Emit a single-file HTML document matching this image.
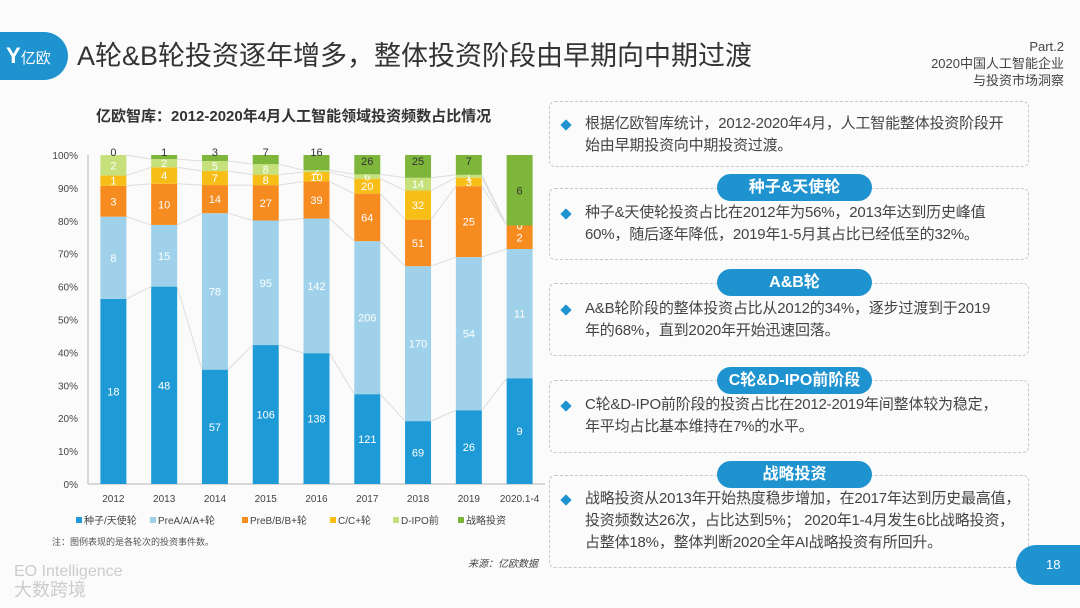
<!DOCTYPE html>
<html><head><meta charset="utf-8">
<style>
body{margin:0;width:1080px;height:608px;background:#fbfbfb;position:relative;overflow:hidden;font-family:"Liberation Sans","Noto Sans CJK SC",sans-serif;color:#333}
.abs{position:absolute}
.box{position:absolute;left:549px;width:480px;border:1.5px dashed #c8c8c8;border-radius:6px;box-sizing:border-box}
.pill{position:absolute;left:717px;width:155px;height:27px;border-radius:14px;background:#1f93cf;color:#fff;font-weight:bold;font-size:16px;text-align:center;line-height:27px}
.txt{position:absolute;left:585px;width:460px;font-size:15px;line-height:22px;color:#444;white-space:nowrap;letter-spacing:-0.2px}
.dia{position:absolute;left:562px;width:8px;height:8px;background:#1f93cf;transform:rotate(45deg)}
</style></head><body>
<div class="abs" style="left:0;top:32px;width:68px;height:48px;background:#1f93cf;border-radius:0 24px 24px 0;color:#fff;font-size:15px;line-height:48px;padding-left:6px;box-sizing:border-box"><b style="font-size:22px">Y</b>亿欧</div>
<div class="abs" style="left:77px;top:34px;font-size:27px;color:#333">A轮&amp;B轮投资逐年增多，整体投资阶段由早期向中期过渡</div>
<div class="abs" style="right:16px;top:38px;font-size:13px;line-height:17px;text-align:right;color:#444">Part.2<br>2020中国人工智能企业<br>与投资市场洞察</div>
<div class="abs" style="left:96px;top:105px;font-size:15px;font-weight:bold;color:#333">亿欧智库：2012-2020年4月人工智能领域投资频数占比情况</div>

<svg class="abs" style="left:0;top:0" width="1080" height="608" id="chart"></svg>

<div class="abs" style="left:52px;top:535px;font-size:9px;color:#555">注：图例表现的是各轮次的投资事件数。</div>
<div class="abs" style="left:468px;top:555px;font-size:10px;font-style:italic;color:#444">来源：亿欧数据</div>
<div class="abs" style="left:14px;top:563px;font-size:16px;color:#ccc;line-height:18px">EO Intelligence<br><span style="font-size:18px">大数跨境</span></div>

<div class="box" style="top:101px;height:66px"></div>
<div class="dia" style="top:121px"></div>
<div class="txt" style="top:113px">根据亿欧智库统计，2012-2020年4月，人工智能整体投资阶段开<br>始由早期投资向中期投资过渡。</div>

<div class="box" style="top:188px;height:72px"></div>
<div class="pill" style="top:174px">种子&amp;天使轮</div>
<div class="dia" style="top:210px"></div>
<div class="txt" style="top:202px">种子&amp;天使轮投资占比在2012年为56%，2013年达到历史峰值<br>60%，随后逐年降低，2019年1-5月其占比已经低至的32%。</div>

<div class="box" style="top:283px;height:73px"></div>
<div class="pill" style="top:269px">A&amp;B轮</div>
<div class="dia" style="top:306px"></div>
<div class="txt" style="top:298px">A&amp;B轮阶段的整体投资占比从2012的34%，逐步过渡到于2019<br>年的68%，直到2020年开始迅速回落。</div>

<div class="box" style="top:380px;height:73px"></div>
<div class="pill" style="top:367px">C轮&amp;D-IPO前阶段</div>
<div class="dia" style="top:402px"></div>
<div class="txt" style="top:394px">C轮&amp;D-IPO前阶段的投资占比在2012-2019年间整体较为稳定，<br>年平均占比基本维持在7%的水平。</div>

<div class="box" style="top:475px;height:93px"></div>
<div class="pill" style="top:461px">战略投资</div>
<div class="dia" style="top:496px"></div>
<div class="txt" style="top:488px">战略投资从2013年开始热度稳步增加，在2017年达到历史最高值，<br>投资频数达26次，占比达到5%； 2020年1-4月发生6比战略投资，<br>占整体18%，整体判断2020全年AI战略投资有所回升。</div>

<div class="abs" style="left:1016px;top:545px;width:70px;height:40px;background:#1f93cf;border-radius:20px 0 0 20px;color:#fff;font-size:13px;line-height:40px;padding-left:30px;box-sizing:border-box">18</div>

<script>
const categories=["2012","2013","2014","2015","2016","2017","2018","2019","2020.1-4"];
const seriesNames=["种子/天使轮","PreA/A/A+轮","PreB/B/B+轮","C/C+轮","D-IPO前","战略投资"];
const seed=[18,48,57,106,138,121,69,26,9];
const preA=[8,15,78,95,142,206,170,54,11];
const preB=[3,10,14,27,39,64,51,25,2];
const cRound=[1,4,7,8,10,20,32,3,0];
const dIpo=[2,2,5,8,2,6,14,1,0];
const strategic=[0,1,3,7,16,26,25,7,6];
const yTicks=[0,10,20,30,40,50,60,70,80,90,100];
const colors=["#1e9bd7","#9fd2ea","#f68b1f","#f8be18","#c6e07b","#7db63a"];
const series=[seed,preA,preB,cRound,dIpo,strategic];
const NS="http://www.w3.org/2000/svg";
const svg=document.getElementById('chart');
const y0=484,y1=155,xL=88,xR=545;
const step=(xR-xL)/categories.length;
const yS=p=>y0-(y0-y1)*p/100;
const xS=i=>xL+step*(i+0.5);
const bw=26;
function mk(t,a){const e=document.createElementNS(NS,t);for(const k in a)e.setAttribute(k,a[k]);svg.appendChild(e);return e;}
yTicks.forEach(t=>{
 const e=mk('text',{x:78,y:yS(t)+4,'font-size':10,'text-anchor':'end',fill:'#444'});e.textContent=t+'%';
 
 
});
const ax=mk('line',{x1:xL,y1:y0,x2:xR,y2:y0,stroke:'#ccc','stroke-width':1.5});


const ay=mk('line',{x1:xL,y1:y0,x2:xL,y2:y1,stroke:'#ccc','stroke-width':1.5});


const tops=[];
categories.forEach((c,i)=>{
 const total=series.reduce((s,a)=>s+a[i],0);
 let cum=0;const bounds=[];
 series.forEach((a,k)=>{
  const p0=cum/total*100;cum+=a[i];const p1=cum/total*100;
  bounds.push(p1);
  const r=mk('rect',{x:xS(i)-bw/2,y:yS(p1),width:bw,height:Math.max(0,yS(p0)-yS(p1)),fill:colors[k]});
  
  
  let ly=(yS(p0)+yS(p1))/2+4;
  if(k===5 && a[i]/total<0.05) ly=yS(100)+1;
  if(k===5 && a[i]/total>=0.05 && a[i]/total<0.1) ly=yS(100)+10;
  const tx=mk('text',{x:xS(i),y:ly,'font-size':11,'text-anchor':'middle',fill:k===5?'#333':'#fff'});
  tx.textContent=a[i];
  
  
 });
 tops.push(bounds);
 const cl=mk('text',{x:xS(i),y:502,'font-size':10,'text-anchor':'middle',fill:'#444'});cl.textContent=c;
 
 
});
for(let k=0;k<5;k++){for(let i=0;i<categories.length-1;i++){
 const l=mk('line',{x1:xS(i)+bw/2,y1:yS(tops[i][k]),x2:xS(i+1)-bw/2,y2:yS(tops[i+1][k]),stroke:'#ddd','stroke-width':1});
 
 
}}
const lx=[76,150,242,330,393,458];
seriesNames.forEach((n,k)=>{
 const r=mk('rect',{x:lx[k],y:517,width:6,height:6,fill:colors[k]});
 
 
 const t=mk('text',{x:lx[k]+8,y:524,'font-size':10,fill:'#444'});t.textContent=n;
 
 
});
</script>
</body></html>
